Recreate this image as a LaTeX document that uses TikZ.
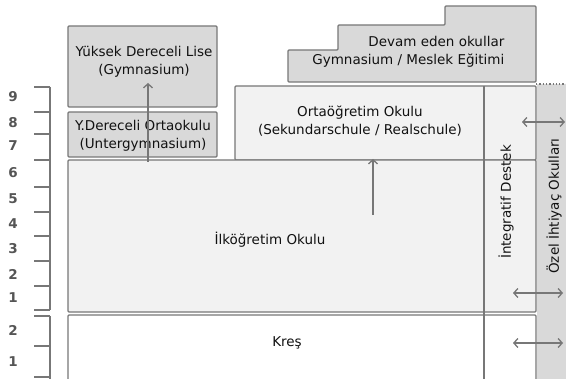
\documentclass[tikz,border=0pt]{standalone}
\usepackage{fontspec}
\setmainfont{DejaVu Sans}
\usetikzlibrary{arrows.meta}

\definecolor{linegray}{HTML}{777777}
\definecolor{boxgray}{HTML}{D9D9D9}
\definecolor{lightbox}{HTML}{F2F2F2}
\definecolor{txtgray}{HTML}{111111}
\definecolor{numgray}{HTML}{555555}

\begin{document}
\begin{tikzpicture}[x=1pt, y=-1pt, line width=1.3pt,
		every node/.style={font=\fontsize{13.5}{18.5}\selectfont, text=txtgray, align=center, inner sep=0pt},
		frame/.style={draw=linegray, rounded corners=1pt},
		tick/.style={draw=linegray},
		upar/.style={draw=linegray, -{Straight Barb[length=4pt,width=9pt]}},
		bothar/.style={draw=linegray, {Straight Barb[length=4pt,width=9pt]}-{Straight Barb[length=4pt,width=9pt]}},
		grade/.style={font=\fontsize{13.5}{13.5}\selectfont\bfseries, text=numgray}]
			\useasboundingbox (0,0) rectangle (566,379);
			\clip (0,0) rectangle (566,379);

			% grade scale
			\draw[tick] (50,87) -- (50,310);
			\foreach \y in {87,112,134,160,187,212,236,261,286,310}
				\draw[tick] (34,\y) -- (50,\y);
			\draw[tick] (50,316) -- (50,385);
			\foreach \y in {316,346,377}
				\draw[tick] (34,\y) -- (50,\y);
			\foreach \g/\y in {9/97,8/123,7/146,6/173,5/199,4/224,3/249,2/274,1/298}
				\node[grade] (g\g) at (13,\y) {\g};
			\node[grade] (k2) at (13,330) {2};
			\node[grade] (k1) at (13,362) {1};

			% school blocks
			\fill [boxgray] (537,84) rectangle (566,385);
			\draw[linegray, dotted] (536,84) -- (566,84);
			\draw[frame, fill=lightbox] (235,86) rectangle (536,160);
			\draw[frame, fill=lightbox] (68,160) rectangle (536,312);
			\draw[frame, fill=white] (68,315) rectangle (536,390);
			\draw[frame, fill=boxgray] (68,26) rectangle (217,107);
			\draw[frame, fill=boxgray] (68,112) rectangle (217,157);
			\draw[frame, fill=boxgray] (288,82) -- (288,50) -- (338,50) -- (338,25)
				-- (445,25) -- (445,6) -- (536,6) -- (536,82) -- cycle;
			\draw[linegray] (484,86) -- (484,385);

			% texts
			\node (lise) at (144,62) {Yüksek Dereceli Lise\\(Gymnasium)};
			\node (ortaokul) at (143,136) {Y.Dereceli Ortaokulu\\(Untergymnasium)};
			\node (orta) at (360,121) {Ortaöğretim Okulu\\(Sekundarschule / Realschule)};
			\node (ilk) at (270,240) {İlköğretim Okulu};
			\node (kres) at (287,343) {Kreş};
			\node[align=right, anchor=east] (devam) at (505,52) {Devam eden okullar\\Gymnasium / Meslek Eğitimi};
			\node[rotate=90] (integ) at (506,202) {İntegratif Destek};
			\node[rotate=90] (ozel) at (554,206) {Özel İhtiyaç Okulları};

			% arrows
			\coordinate (ilkTop) at (148,162);
			\coordinate (liseIn) at (148,83);
			\coordinate (ortaBase) at (373,215);
			\coordinate (ortaIn) at (373,159);
			\draw[upar] (ilkTop) -- (liseIn);
			\draw[upar] (ortaBase) -- (ortaIn);
			\coordinate (ortaL) at (522,122);
			\coordinate (ortaR) at (565,122);
			\coordinate (ilkL) at (513,293);
			\coordinate (ilkR) at (563,293);
			\coordinate (kresL) at (513,343);
			\coordinate (kresR) at (563,343);
			\draw[bothar] (ortaL) -- (ortaR);
			\draw[bothar] (ilkL) -- (ilkR);
			\draw[bothar] (kresL) -- (kresR);
		\end{tikzpicture}
\end{document}
